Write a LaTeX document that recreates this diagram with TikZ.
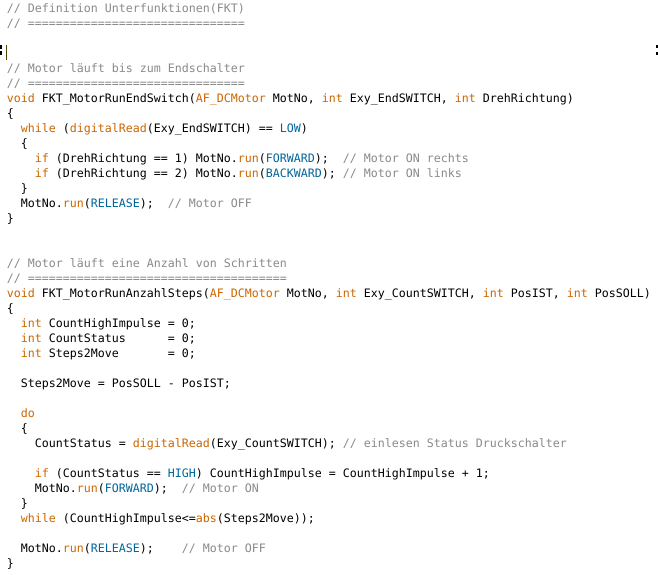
\documentclass[tikz,border=0pt]{standalone}
\usepackage{fontspec}
\setmonofont{DejaVu Sans Mono}
\definecolor{kwc}{HTML}{CC6600}
\definecolor{cstc}{HTML}{006699}
\definecolor{cmtc}{HTML}{8A8A8A}
\definecolor{cursorc}{HTML}{4F4500}
\newcommand\kwd[1]{\textcolor{kwc}{#1}}
\newcommand\cst[1]{\textcolor{cstc}{#1}}
\newcommand\cmt[1]{\textcolor{cmtc}{#1}}
\newcommand\codeln[4]{\node[codetext] (#1) at ({7+7*#3},{12.5+15*(#2-1)}) {#4};}
\begin{document}
\begin{tikzpicture}[x=0.75pt,y=-0.75pt,
  codetext/.style={anchor=base west, inner sep=0pt, outer sep=0pt,
    font=\ttfamily\fontsize{8.72}{10}\selectfont\frenchspacing, text=black},
  markbox/.style={fill=black, draw=none}]
\fill[white] (0,0) rectangle (658,575);
\useasboundingbox (0,0) rectangle (658,575);
% cursor line marks
\fill[markbox] (0,45) rectangle (2,49);
\fill[markbox] (0,51) rectangle (2,55);
\fill[cursorc] (6,45) rectangle (7,60);
\fill[markbox] (656,45) rectangle (658,48);
\fill[markbox] (656,52) rectangle (658,55);
% code
\codeln{l1}{1}{0}{\cmt{// Definition Unterfunktionen(FKT)}}
\codeln{l2}{2}{0}{\cmt{// ===============================}}
\codeln{l5}{5}{0}{\cmt{// Motor läuft bis zum Endschalter}}
\codeln{l6}{6}{0}{\cmt{// ===============================}}
\codeln{l7}{7}{0}{\kwd{void} FKT\_MotorRunEndSwitch(\kwd{AF\_DCMotor} MotNo, \kwd{int} Exy\_EndSWITCH, \kwd{int} DrehRichtung)}
\codeln{l8}{8}{0}{\{}
\codeln{l9}{9}{2}{\kwd{while} (\kwd{digitalRead}(Exy\_EndSWITCH) == \cst{LOW})}
\codeln{l10}{10}{2}{\{}
\codeln{l11}{11}{4}{\kwd{if} (DrehRichtung == 1) MotNo.\kwd{run}(\cst{FORWARD});~~\cmt{// Motor ON rechts}}
\codeln{l12}{12}{4}{\kwd{if} (DrehRichtung == 2) MotNo.\kwd{run}(\cst{BACKWARD});~\cmt{// Motor ON links}}
\codeln{l13}{13}{2}{\}}
\codeln{l14}{14}{2}{MotNo.\kwd{run}(\cst{RELEASE});~~\cmt{// Motor OFF}}
\codeln{l15}{15}{0}{\}}
\codeln{l18}{18}{0}{\cmt{// Motor läuft eine Anzahl von Schritten}}
\codeln{l19}{19}{0}{\cmt{// =====================================}}
\codeln{l20}{20}{0}{\kwd{void} FKT\_MotorRunAnzahlSteps(\kwd{AF\_DCMotor} MotNo, \kwd{int} Exy\_CountSWITCH, \kwd{int} PosIST, \kwd{int} PosSOLL)}
\codeln{l21}{21}{0}{\{}
\codeln{l22}{22}{2}{\kwd{int} CountHighImpulse = 0;}
\codeln{l23}{23}{2}{\kwd{int} CountStatus~~~~~~= 0;}
\codeln{l24}{24}{2}{\kwd{int} Steps2Move~~~~~~~= 0;}
\codeln{l26}{26}{2}{Steps2Move = PosSOLL - PosIST;}
\codeln{l28}{28}{2}{\kwd{do}}
\codeln{l29}{29}{2}{\{}
\codeln{l30}{30}{4}{CountStatus = \kwd{digitalRead}(Exy\_CountSWITCH); \cmt{// einlesen Status Druckschalter}}
\codeln{l32}{32}{4}{\kwd{if} (CountStatus == \cst{HIGH}) CountHighImpulse = CountHighImpulse + 1;}
\codeln{l33}{33}{4}{MotNo.\kwd{run}(\cst{FORWARD});~~\cmt{// Motor ON}}
\codeln{l34}{34}{2}{\}}
\codeln{l35}{35}{2}{\kwd{while} (CountHighImpulse<=\kwd{abs}(Steps2Move));}
\codeln{l37}{37}{2}{MotNo.\kwd{run}(\cst{RELEASE});~~~~\cmt{// Motor OFF}}
\codeln{l38}{38}{0}{\}}
\end{tikzpicture}
\end{document}
